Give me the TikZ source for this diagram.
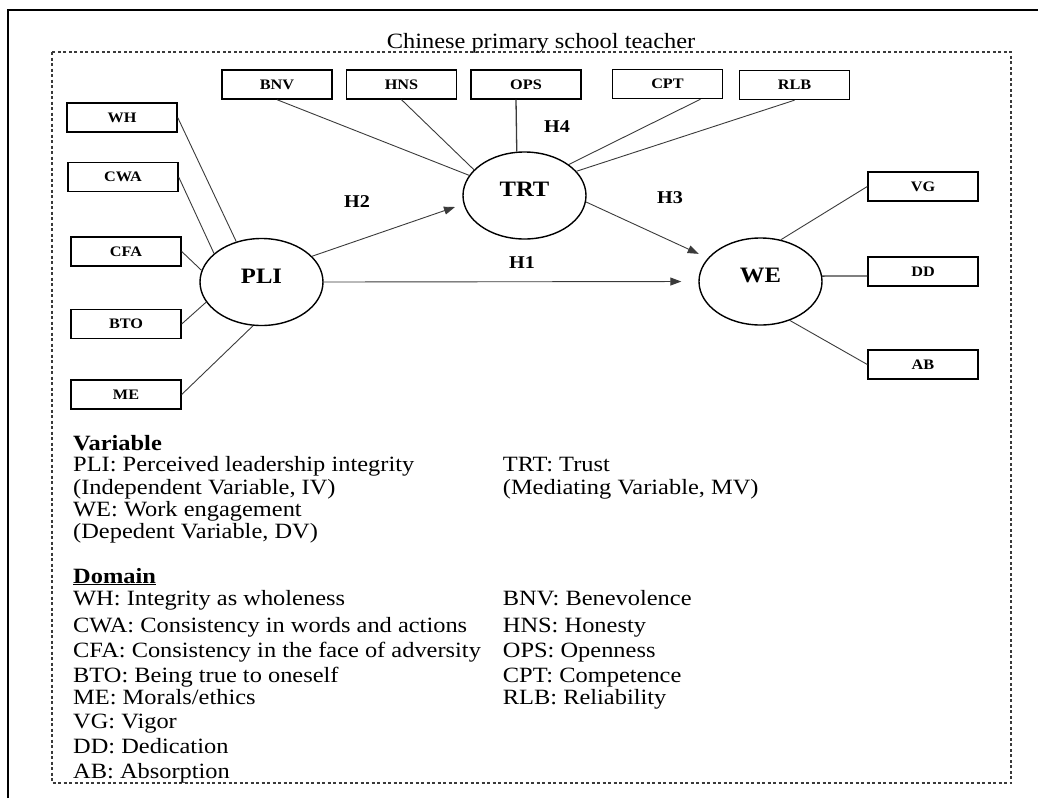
\documentclass[tikz,border=0pt]{standalone}
\usepackage{fontspec}
\setmainfont[FakeStretch=1.12]{Liberation Serif}
\usepackage{tikz}
\usetikzlibrary{arrows.meta, shapes.geometric}
\definecolor{linegray}{HTML}{3A3A3A}

\tikzset{
  indbox/.style={draw, line width=1.4pt, minimum width=110pt, minimum height=29pt,
    inner sep=0pt, font=\fontsize{14.5}{16}\selectfont\bfseries},
  latent/.style={ellipse, draw, line width=1.4pt, minimum width=123pt, minimum height=87pt,
    inner sep=0pt, text height=16pt, text depth=14pt, font=\fontsize{22}{24}\selectfont\bfseries},
  link/.style={draw=linegray, line width=0.9pt},
  effect/.style={link, -{Triangle[length=11pt, width=8pt]}},
  hyp/.style={font=\fontsize{18}{20}\selectfont\bfseries},
  legend/.style={anchor=base west, inner sep=0pt, font=\fontsize{21.8}{24}\selectfont},
}

\begin{document}
\begin{tikzpicture}[x=1pt, y=-1pt]
  \useasboundingbox (0,0) rectangle (1038,798);

  % Frames
  \draw[line width=2pt] (8,798) -- (8,10) -- (1038,10);
  \draw[linegray, line width=1.3pt, dash pattern=on 3pt off 2.5pt] (52,52) rectangle (1011,783);
  \node[anchor=base, inner sep=0pt, font=\fontsize{21.8}{24}\selectfont] (title) at (541,48)
    {Chinese primary school teacher};

  % Latent variables
  \node[latent] (PLI) at (261.5,282) {PLI};
  \node[latent] (TRT) at (524.5,195.5) {TRT};
  \node[latent] (WE) at (760.5,281.5) {WE};

  % Indicators
  \foreach \name/\x/\y in {WH/122/117.5, CWA/123/177, CFA/126/251.5, BTO/126/324, ME/126/394.5,
      BNV/277/84.5, HNS/401.5/84.5, OPS/526/84.5, CPT/667.5/84, RLB/794.5/85,
      VG/923/186.5, DD/923/271.5, AB/923/364.5}
    \node[indbox] (\name) at (\x,\y) {\name};

  \foreach \name/\ang in {WH/122, CWA/149, CFA/169, BTO/200, ME/259}
    \draw[link] (\name.east) -- (PLI.\ang);
  \draw[link] (BNV.south) -- (TRT.160);
  \draw[link] (HNS.south) -- (TRT.153);
  \draw[link, line width=1.3pt] ([xshift=-10pt]OPS.south) -- (TRT.100);
  \draw[link] ([xshift=33pt]CPT.south) -- (TRT.35);
  \draw[link] (RLB.south) -- (TRT.25);
  \draw[link] (VG.west) -- (WE.64);
  \draw[link, line width=1.3pt] ([yshift=-4.5pt]DD.west) -- (WE.5);
  \draw[link] (AB.west) -- (WE.307);

  % Hypotheses
  \draw[effect, shorten >=17pt] (PLI.east) -- (WE.west);
  \draw[effect, shorten >=9pt] (PLI.27) -- (TRT.188);
  \draw[effect, shorten >=10pt] (TRT.354) -- (WE.156);
  \node[hyp] (hOne) at (522,263) {H1};
  \node[hyp] (hTwo) at (357,202) {H2};
  \node[hyp] (hThree) at (670,198) {H3};
  \node[hyp] (hFour) at (557,127) {H4};

  % Legend
  \foreach \y/\txt [count=\i] in {450/{\textbf{Variable}}, 471.5/{PLI: Perceived leadership integrity},
      494/{(Independent Variable, IV)}, 516/{WE: Work engagement}, 538/{(Depedent Variable, DV)}}
    \node[legend] (varL\i) at (73,\y) {\txt};
  \foreach \y/\txt [count=\i] in {471.5/{TRT: Trust}, 494/{(Mediating Variable, MV)}}
    \node[legend] (varR\i) at (502.7,\y) {\txt};
  \foreach \y/\txt [count=\i] in {583/{\underline{\textbf{Domain}}}, 605/{WH: Integrity as wholeness},
      632/{CWA: Consistency in words and actions}, 657/{CFA: Consistency in the face of adversity},
      682/{BTO: Being true to oneself}, 704/{ME: Morals/ethics}, 728/{VG: Vigor},
      753/{DD: Dedication}, 778/{AB: Absorption}}
    \node[legend] (domL\i) at (73,\y) {\txt};
  \foreach \y/\txt [count=\i] in {605/{BNV: Benevolence}, 632/{HNS: Honesty}, 657/{OPS: Openness},
      682/{CPT: Competence}, 704/{RLB: Reliability}}
    \node[legend] (domR\i) at (502.7,\y) {\txt};
\end{tikzpicture}
\end{document}
